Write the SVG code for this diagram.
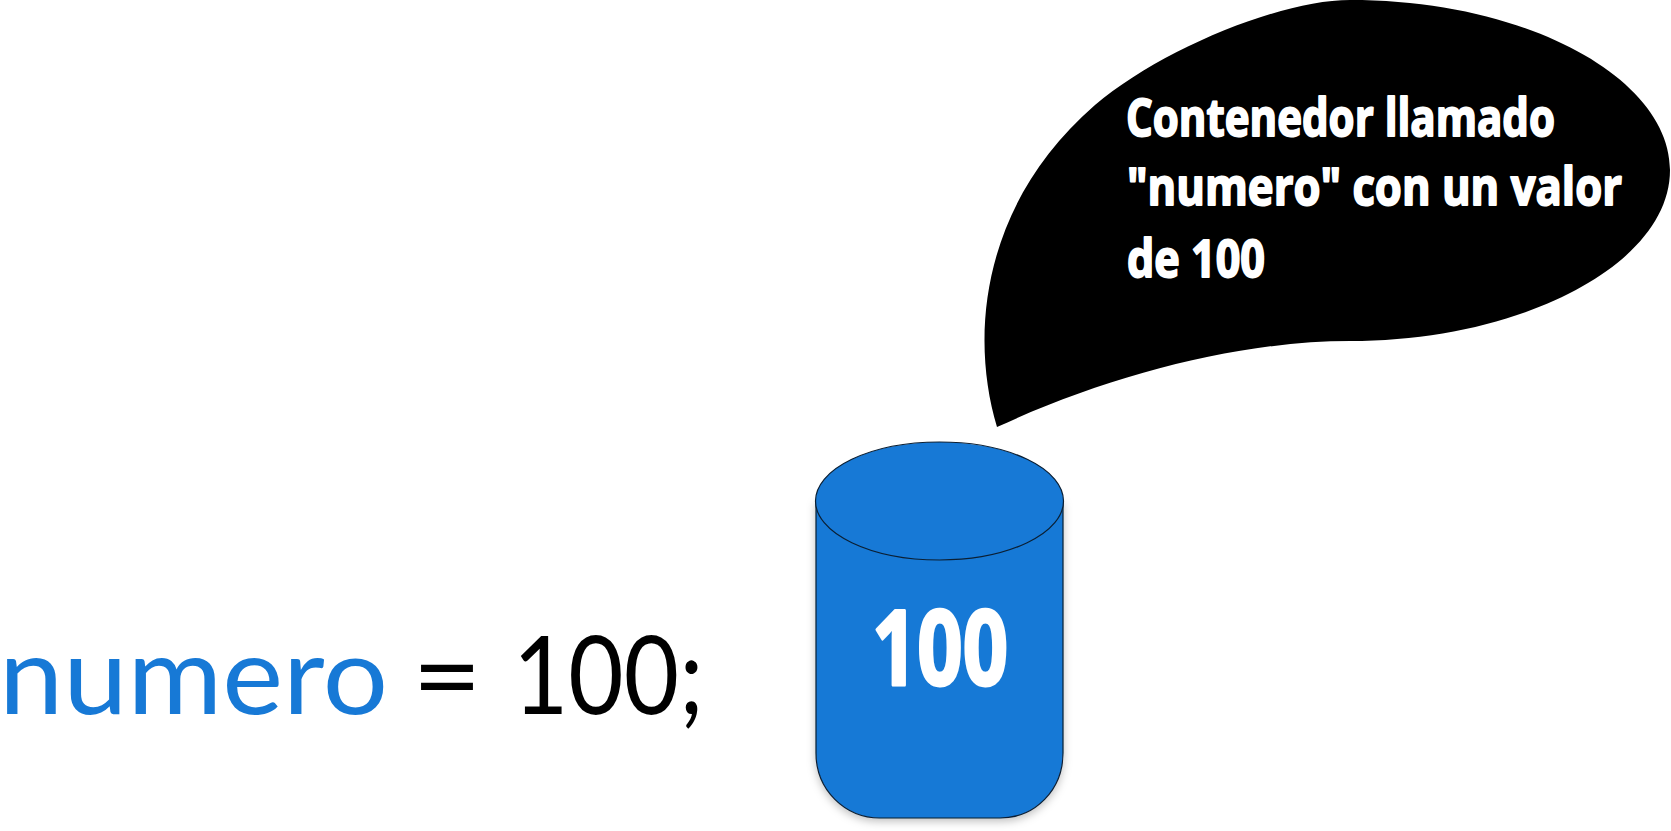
<svg xmlns="http://www.w3.org/2000/svg" width="1671" height="831" viewBox="0 0 1671 831">
<defs><filter id="soft" x="-10%" y="-10%" width="120%" height="120%"><feDropShadow dx="0" dy="3" stdDeviation="4" flood-color="#000" flood-opacity="0.25"/></filter></defs>
<style>
.code{font-family:"Lato","Liberation Sans",sans-serif;font-weight:400;font-size:108px}
.hand{font-family:"Open Sans","DejaVu Sans",sans-serif;font-weight:700;fill:#fff;stroke:#fff;stroke-width:1.6px;stroke-linejoin:round}
.blue{fill:#1779d6}
.edge{stroke:#0b1f33;stroke-width:1.2}
</style>
<rect width="1671" height="831" fill="#fff"/>
<g id="bubble">
<path d="M997 427C968 330 985 200 1095 105C1160 50 1280 0 1350 0C1530 0 1670 80 1670 170C1670 265 1520 341 1350 341C1240 341 1110 375 997 427Z" fill="#000"/>
<text class="hand" transform="translate(1126 136) scale(1 1.18)" font-size="44" textLength="429" lengthAdjust="spacingAndGlyphs">Contenedor llamado</text>
<text class="hand" transform="translate(1127 205) scale(1 1.18)" font-size="44" textLength="495" lengthAdjust="spacingAndGlyphs">"numero" con un valor</text>
<text class="hand" transform="translate(1127 277) scale(1 1.18)" font-size="44" textLength="138" lengthAdjust="spacingAndGlyphs">de 100</text>
</g>
<g id="cylinder">
<path class="blue edge" filter="url(#soft)" d="M816 501V753C816 790 845 818 880 818H1000C1035 818 1063 790 1063 753V501Z"/>
<ellipse class="blue edge" cx="939.5" cy="501" rx="124" ry="59"/>
<text class="hand" x="872" y="685" font-size="104" textLength="136" lengthAdjust="spacingAndGlyphs" style="stroke-width:3px">100</text>
</g>
<g id="code">
<text class="code blue" x="-1" y="714" textLength="389" lengthAdjust="spacingAndGlyphs">numero</text>
<text class="code" x="412" y="714" textLength="70" lengthAdjust="spacingAndGlyphs">=</text>
<text class="code" x="513" y="714" textLength="191" lengthAdjust="spacingAndGlyphs">100;</text>
</g>
</svg>
